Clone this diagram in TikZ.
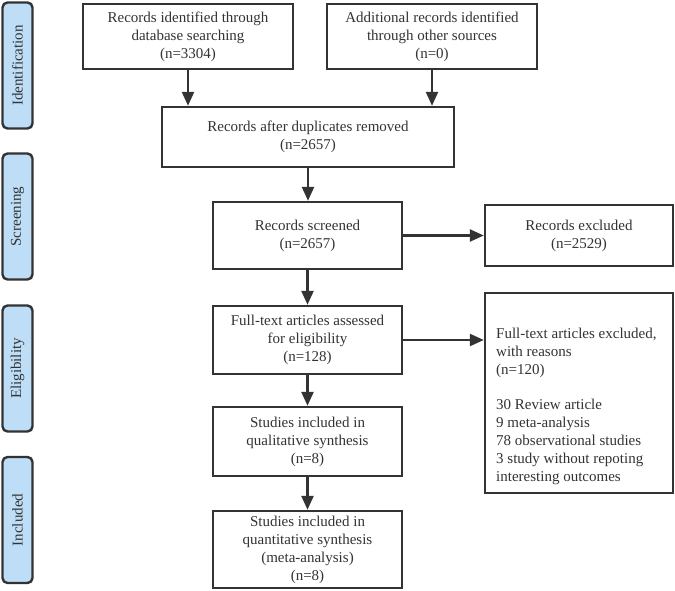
\documentclass[tikz,border=0pt]{standalone}
\usepackage{fontspec}
\setmainfont{Liberation Serif}
\newfontfamily\timesfont{Liberation Serif}
\usetikzlibrary{arrows.meta}
\definecolor{ln}{HTML}{333333}
\definecolor{side}{HTML}{BEDDF6}
\begin{document}
\begin{tikzpicture}[x=1pt,y=-1pt,
  every node/.style={font=\timesfont\fontsize{15}{18}\selectfont, text=ln},
  box/.style={draw=ln, line width=2.4pt, fill=white, align=center, inner sep=0pt},
  sidebox/.style={draw=ln, line width=2.4pt, fill=side, rounded corners=5pt, rotate=90, inner sep=0pt, minimum height=30, minimum width=126},
  arr/.style={draw=ln, line width=2.4pt, -{Triangle[length=14pt,width=12pt]}}]
\useasboundingbox (0,0) rectangle (675,591);
% phase labels
\node[sidebox] (s1) at (17.5,65.5) {Identification};
\node[sidebox] (s2) at (17.5,216.5) {Screening};
\node[sidebox] (s3) at (17.5,368.5) {Eligibility};
\node[sidebox] (s4) at (17.5,520) {Included};
% boxes
\node[box, minimum width=210, minimum height=65] (b1) at (188,36.5) {Records identified through\\database searching\\(n=3304)};
\node[box, minimum width=210, minimum height=65] (b2) at (432,36.5) {Additional records identified\\through other sources\\(n=0)};
\node[box, minimum width=292, minimum height=60] (b3) at (308,137) {Records after duplicates removed\\(n=2657)};
\node[box, minimum width=189, minimum height=67] (b4) at (307.5,235.5) {Records screened\\(n=2657)};
\node[box, minimum width=188, minimum height=61] (e1) at (579,235.5) {Records excluded\\(n=2529)};
\node[box, minimum width=189, minimum height=68] (b5) at (307.5,340) {Full-text articles assessed\\for eligibility\\(n=128)};
\node[box, minimum width=188, minimum height=200] (e2) at (579,393) {};
\node[anchor=west, align=left, inner sep=0pt] (e2t) at (496,406) {Full-text articles excluded,\\with reasons\\(n=120)\\[17pt]30 Review article\\9 meta-analysis\\78 observational studies\\3 study without repoting\\interesting outcomes};
\node[box, minimum width=189, minimum height=69] (b6) at (307.5,441.5) {Studies included in\\qualitative synthesis\\(n=8)};
\node[box, minimum width=189, minimum height=77] (b7) at (307.5,549.5) {Studies included in\\quantitative synthesis\\(meta-analysis)\\(n=8)};
% connectors
\draw[arr] (b1.south) -- (b1.south |- b3.north);
\draw[arr] (b2.south) -- (b2.south |- b3.north);
\draw[arr] (b3.south) -- (b3.south |- b4.north);
\draw[arr] (b4.east) -- (e1.west);
\draw[arr] (b4.south) -- (b5.north);
\draw[arr] (b5.east) -- (b5.east -| e2.west);
\draw[arr] (b5.south) -- (b6.north);
\draw[arr] (b6.south) -- (b7.north);
\end{tikzpicture}
\end{document}
